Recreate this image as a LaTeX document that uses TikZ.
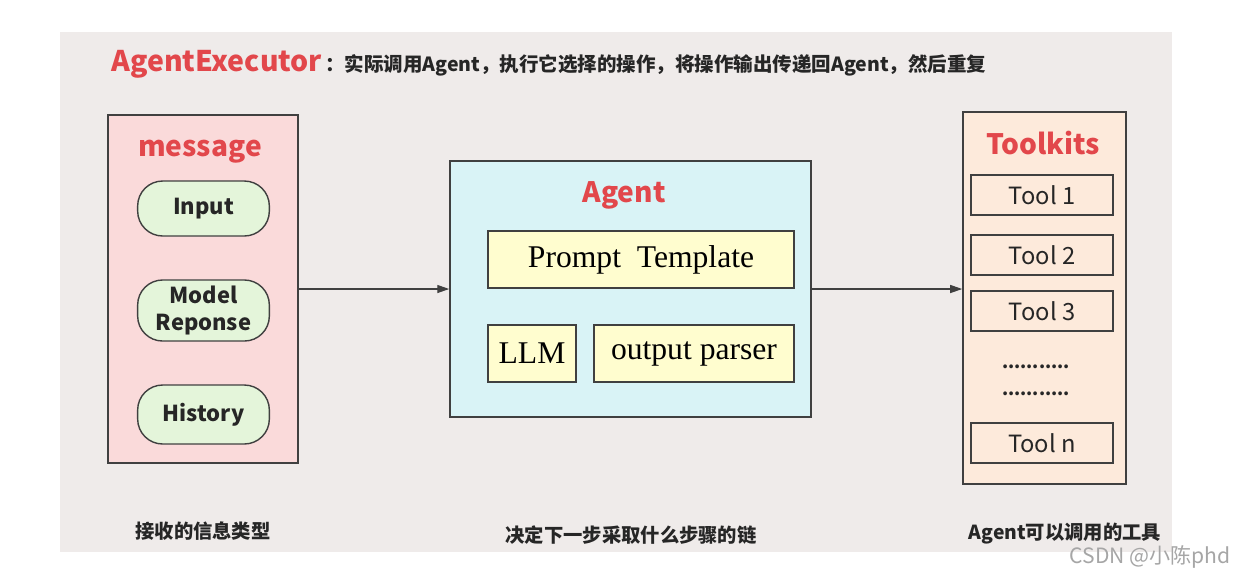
\documentclass[tikz,border=0pt]{standalone}
\usepackage{fontspec}
\usetikzlibrary{arrows.meta, positioning}
\newfontfamily\cjk{Noto Sans CJK SC}
\newfontfamily\partfont{Liberation Serif}
\definecolor{panelgray}{HTML}{EFEBEA}
\definecolor{titlered}{HTML}{E2474B}
\definecolor{msgpink}{HTML}{FADADA}
\definecolor{pillgreen}{HTML}{E4F5DA}
\definecolor{agentcyan}{HTML}{D9F3F6}
\definecolor{boxyellow}{HTML}{FFFDCF}
\definecolor{toolpeach}{HTML}{FDEADB}
\definecolor{edge}{HTML}{404040}

\begin{document}
\begin{tikzpicture}[
    x=0.02cm, y=-0.02cm,
    group/.style={rectangle, draw=edge, line width=0.9pt, inner sep=0pt},
    head/.style={font=\cjk\fontsize{16}{16}\selectfont\bfseries, text=titlered},
    pill/.style={rectangle, rounded corners=0.5cm, draw=edge, line width=0.8pt, fill=pillgreen, minimum width=2.54cm, text width=2.4cm, align=center, font=\cjk\fontsize{12.5}{15.5}\selectfont\bfseries, text=black!85},
    part/.style={rectangle, draw=edge, line width=0.9pt, fill=boxyellow, minimum height=1.14cm, font=\partfont\fontsize{18}{18}\selectfont},
    tool/.style={rectangle, draw=edge, line width=0.8pt, minimum width=2.84cm, minimum height=0.8cm, font=\cjk\fontsize{13.5}{13.5}\selectfont, text=black!85},
    caption/.style={font=\cjk\fontsize{11}{11}\selectfont\bfseries, text=black!85},
    arr/.style={draw=edge, line width=0.7pt, -{Triangle[length=0.24cm, width=0.16cm]}}
]
    % page and panel
    \useasboundingbox (0,0) rectangle (1239,576);
    \fill[white] (0,0) rectangle (1239,576);
    \fill[panelgray] (60,32) rectangle (1172,552);

    % title
    \node [anchor=west, inner sep=0pt] (title) at (111,64) {{\cjk\fontsize{16.2}{16.2}\selectfont\bfseries\color{titlered}AgentExecutor}\,{\cjk\fontsize{11.1}{11.1}\selectfont\bfseries\color{black!85}：实际调用Agent，执行它选择的操作，将操作输出传递回Agent，然后重复}};

    % message group
    \node [group, fill=msgpink, minimum width=3.8cm, minimum height=6.96cm] (msg) at (203,289) {};
    \node [head] (msghead) at (200,152) {message};
    \node [pill, minimum height=1.1cm] (input) at (203.5,208.5) {Input};
    \node [pill, minimum height=1.22cm] (resp) at (203.5,310.5) {Model\\Reponse};
    \node [pill, minimum height=1.18cm] (hist) at (203.5,414.5) {History};

    % agent group
    \node [group, fill=agentcyan, minimum width=7.22cm, minimum height=5.12cm] (agent) at (630.5,289) {};
    \node [head] (agenthead) at (624,195) {Agent};
    \node [part, minimum width=6.12cm] (prompt) at (641,259.5) {Prompt\ \ Template};
    \node [part, minimum width=1.76cm] (llm) at (532,353.5) {LLM};
    \node [part, minimum width=4cm] (parser) at (694,353.5) {output parser};

    % toolkits group
    \node [group, fill=toolpeach, minimum width=3.26cm, minimum height=7.44cm] (tools) at (1044.5,298) {};
    \node [head] (toolhead) at (1043,143) {Toolkits};
    \node [tool] (t1) at (1042,195) {Tool 1};
    \node [tool] (t2) at (1042,255) {Tool 2};
    \node [tool] (t3) at (1042,311) {Tool 3};
    \node [font=\cjk\bfseries, text=black!85] (dots1) at (1036,367) {...........};
    \node [font=\cjk\bfseries, text=black!85] (dots2) at (1036,394) {...........};
    \node [tool] (tn) at (1042,443) {Tool n};

    % connectors
    \path [arr] (msg.east) -- (agent.west);
    \path [arr] (agent.east) -- (agent.east -| tools.west);

    % captions
    \node [caption] (cap1) at (203,531) {接收的信息类型};
    \node [caption] (cap2) at (631,535) {决定下一步采取什么步骤的链};
    \node [caption] (cap3) at (1065,534) {Agent可以调用的工具};

    % watermark
    \node [font=\cjk\fontsize{12}{12}\selectfont, text=black!35, anchor=east] (mark) at (1237,557) {CSDN @小陈phd};
\end{tikzpicture}
\end{document}
